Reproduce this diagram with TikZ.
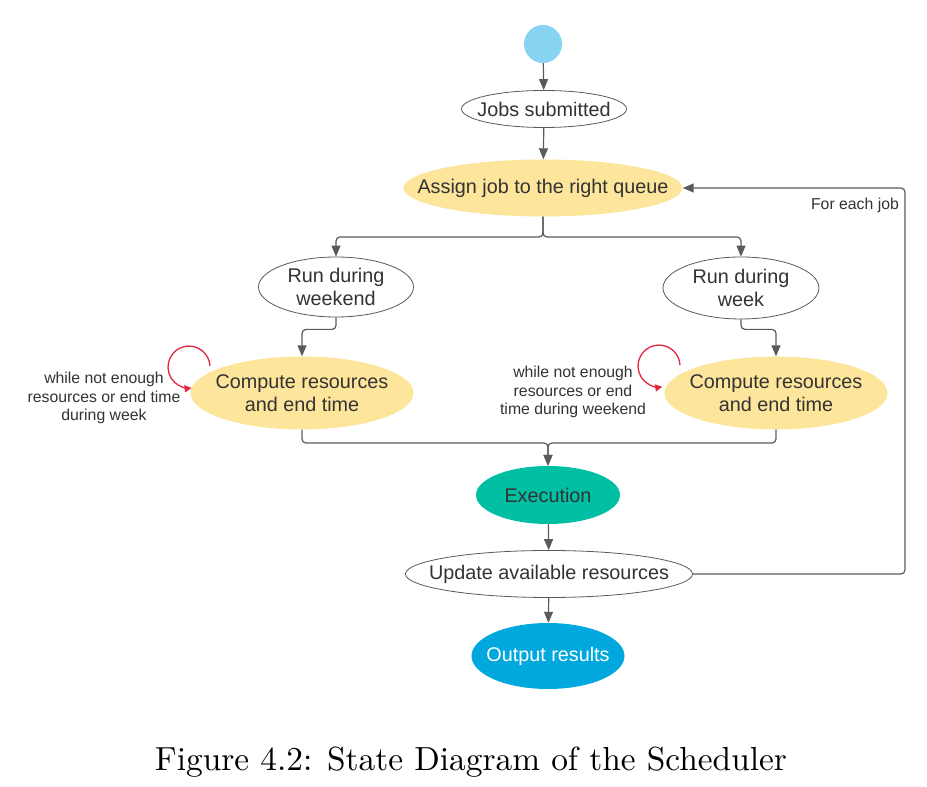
\documentclass[tikz,border=0pt]{standalone}
\usepackage{fontspec}
\usepackage{graphicx}
\newfontfamily\lsans{Liberation Sans}
\usetikzlibrary{shapes.geometric,arrows.meta}
\definecolor{txt}{HTML}{333333}
\definecolor{ln}{HTML}{5A5A5A}
\definecolor{yel}{HTML}{FDE59B}
\definecolor{sky}{HTML}{86D4F2}
\definecolor{tealx}{HTML}{00BFA3}
\definecolor{blu}{HTML}{00A8DD}
\definecolor{loopred}{HTML}{E3263F}
\begin{document}
\begin{tikzpicture}[x=1pt,y=1pt,
  st/.style={ellipse, inner xsep=-80pt, inner ysep=-30pt, align=center, text=txt,
             font=\lsans\fontsize{19.8}{23.5}\selectfont},
  wst/.style={st, draw=ln, line width=0.8pt, fill=white},
  yst/.style={st, fill=yel},
  small/.style={align=center, text=txt, inner sep=0pt, font=\lsans\fontsize{15.8}{18.5}\selectfont},
  arr/.style={draw=ln, line width=1.2pt, -{Triangle[length=11pt,width=9pt]}, rounded corners=4pt},
  loopa/.style={draw=loopred, line width=1.3pt, -{Triangle[length=7pt,width=7pt]}}
]
\useasboundingbox (0,0) rectangle (927,787);

\node[circle, fill=sky, minimum size=38pt, inner sep=0pt] (s0) at (543,743) {};
\node[wst, minimum width=165pt, minimum height=37pt] (js) at (544,678) {Jobs submitted};
\node[yst, minimum width=279pt, minimum height=57pt] (as) at (543,599) {Assign job to the right queue};
\node[wst, minimum width=155pt, minimum height=60pt] (wk) at (336,500) {Run during\\weekend};
\node[wst, minimum width=156pt, minimum height=62pt] (wd) at (741,499) {Run during\\week};
\node[yst, minimum width=223pt, minimum height=73pt] (cl) at (302,394) {Compute resources\\and end time};
\node[yst, minimum width=223pt, minimum height=73pt] (cr) at (776,394) {Compute resources\\and end time};
\node[st, fill=tealx, minimum width=144pt, minimum height=58pt] (ex) at (548,292) {Execution};
\node[wst, minimum width=287pt, minimum height=47pt] (up) at (549,213) {Update available resources};
\node[st, fill=blu, text=white, minimum width=153pt, minimum height=66pt] (out) at (548,131) {Output results};

\node[small] (ll) at (104,389) {while not enough\\resources or end time\\during week};
\node[small] (rl) at (573,395) {while not enough\\resources or end\\time during weekend};
\node[small] (fe) at (855,582) {For each job};

\coordinate (br) at (543,550);
\coordinate (mg) at (548,344);
\coordinate (fb) at (905,599);

\draw[arr] (s0) -- (js);
\draw[arr] (js) -- (as);
\draw[arr] (as.south) -- (br) -| (wk.north);
\draw[arr] (as.south) -- (br) -| (wd.north);
\draw[arr] (wk.south) -- ++(0,-12) -| (cl.north);
\draw[arr] (wd.south) -- ++(0,-10) -| (cr.north);
\draw[arr] (cl.south) |- (mg) -- (ex.north);
\draw[arr] (cr.south) |- (mg) -- (ex.north);
\draw[arr] (ex) -- (up);
\draw[arr] (up) -- (out);
\draw[arr] (up.east) -| (fb) -- (as.east);

\draw[loopa] ([shift={(-92,27)}]cl.center) arc[start angle=3,end angle=277,radius=21pt];
\draw[loopa] ([shift={(-96,28)}]cr.center) arc[start angle=3,end angle=279,radius=21pt];

\node (cap) at (471,25) {\resizebox{632pt}{!}{Figure 4.2: State Diagram of the Scheduler}};
\end{tikzpicture}
\end{document}
